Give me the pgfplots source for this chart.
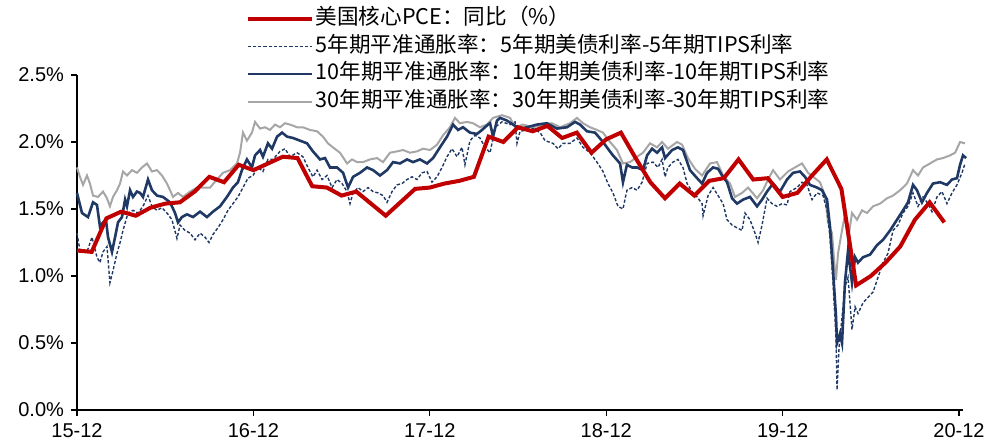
\documentclass[border=0pt]{standalone}
\usepackage{fontspec}
\usepackage{pgfplots}
\pgfplotsset{compat=1.18}
\usetikzlibrary{calc}
\setmainfont{Liberation Sans}
\newfontfamily\cjk{Noto Sans CJK SC}
\definecolor{pcered}{HTML}{C00000}
\definecolor{navy}{HTML}{1F3864}
\definecolor{lgray}{HTML}{A6A6A6}
\begin{document}
\begin{tikzpicture}
\begin{axis}[
  name=ax,
  scale only axis,
  width=443pt, height=167.5pt,
  xmin=0, xmax=60.27, ymin=0, ymax=2.5,
  axis x line=bottom, axis y line=left,
  axis line style={-, line width=0.6pt, black},
  clip=false,
  xtick={0,12,24,36,48,60},
  xticklabels={15-12,16-12,17-12,18-12,19-12,20-12},
  ytick={0,0.5,1,1.5,2,2.5},
  yticklabels={0.0\%,0.5\%,1.0\%,1.5\%,2.0\%,2.5\%},
  tick align=outside,
  major tick length=3pt,
  tick style={black, line width=0.6pt},
  ticklabel style={font=\fontsize{10}{12}\selectfont},
  reverse legend,
  legend style={
    at={(0.19,1.205)}, anchor=north west,
    draw=none, fill=none, inner sep=0pt,
    font=\cjk\fontsize{10.8}{12}\selectfont,
    nodes={inner sep=1pt, text height=8pt, text depth=2pt},
    row sep=1.8pt,
  },
  legend cell align=left,
  legend image code/.code={\draw[#1] (0pt,0pt) -- (32pt,0pt);},
]
% 30Y breakeven
\addplot[lgray, line width=1pt] table {
0.00 1.81
0.20 1.74
0.41 1.68
0.68 1.75
0.88 1.69
1.09 1.60
1.43 1.59
1.77 1.63
2.04 1.58
2.24 1.52
2.45 1.59
2.72 1.64
2.93 1.69
3.13 1.78
3.40 1.75
3.74 1.79
4.08 1.77
4.42 1.81
4.76 1.84
5.10 1.78
5.44 1.79
5.78 1.75
6.12 1.69
6.33 1.64
6.53 1.59
6.87 1.62
7.21 1.59
7.69 1.63
8.16 1.66
8.57 1.66
9.05 1.66
9.52 1.72
9.93 1.77
10.41 1.79
10.88 1.84
11.09 1.92
11.29 2.07
11.56 2.01
11.90 2.07
12.11 2.15
12.45 2.10
12.79 2.11
13.13 2.09
13.47 2.13
13.81 2.11
14.15 2.14
14.49 2.13
14.97 2.11
15.37 2.11
15.85 2.09
16.33 2.08
16.73 2.04
17.07 1.99
17.41 1.96
17.89 1.92
18.37 1.84
18.71 1.87
19.05 1.85
19.46 1.85
19.93 1.87
20.41 1.88
20.82 1.85
21.29 1.92
21.77 1.93
22.18 1.94
22.65 1.92
23.13 1.93
23.54 1.95
24.01 1.94
24.49 1.98
24.90 2.05
25.37 2.11
25.71 2.18
26.05 2.14
26.53 2.15
26.94 2.14
27.41 2.11
27.89 2.13
28.30 2.18
28.91 2.20
29.46 2.18
29.80 2.11
30.34 2.13
31.02 2.11
31.70 2.13
32.31 2.14
32.86 2.11
33.54 2.14
34.01 2.18
34.42 2.14
34.90 2.11
35.37 2.09
35.78 2.07
36.26 2.00
36.73 1.94
37.14 1.84
37.62 1.85
38.10 1.89
38.50 1.92
38.98 1.99
39.46 1.96
39.80 2.00
40.20 1.95
40.82 2.00
41.16 1.98
41.56 1.88
42.04 1.80
42.52 1.75
43.06 1.84
43.54 1.85
43.95 1.75
44.42 1.69
44.76 1.59
45.24 1.62
45.65 1.66
46.26 1.58
46.67 1.64
47.01 1.72
47.35 1.79
47.82 1.72
48.37 1.78
48.84 1.81
49.32 1.84
49.73 1.77
50.20 1.73
50.54 1.70
50.88 1.60
51.09 1.40
51.36 1.32
51.50 1.12
51.63 0.97
51.77 1.17
52.04 1.34
52.24 1.46
52.45 1.27
52.72 1.47
53.06 1.42
53.40 1.49
53.74 1.47
54.15 1.52
54.63 1.54
55.10 1.58
55.51 1.60
55.99 1.64
56.46 1.69
56.87 1.79
57.21 1.75
57.55 1.81
58.03 1.84
58.50 1.87
58.91 1.88
59.39 1.90
59.73 1.92
60.07 2.00
60.41 1.99
};
\addlegendentry{30年期平准通胀率：30年期美债利率-30年期TIPS利率}
% 10Y breakeven
\addplot[navy, line width=1.3pt] table {
0.00 1.62
0.34 1.47
0.75 1.44
1.09 1.55
1.36 1.53
1.56 1.37
1.77 1.40
1.97 1.42
2.11 1.29
2.38 1.18
2.59 1.29
2.79 1.40
3.06 1.44
3.27 1.57
3.40 1.52
3.61 1.64
3.81 1.59
4.08 1.63
4.29 1.62
4.49 1.59
4.83 1.72
5.10 1.64
5.44 1.60
5.85 1.59
6.33 1.55
6.67 1.47
6.87 1.40
7.14 1.44
7.48 1.46
7.89 1.44
8.37 1.48
8.84 1.44
9.25 1.48
9.73 1.52
10.20 1.59
10.61 1.66
10.95 1.70
11.22 1.79
11.56 1.87
11.90 1.81
12.11 1.90
12.45 1.94
12.65 1.89
12.99 1.99
13.27 1.95
13.61 2.04
13.95 2.07
14.29 2.04
14.69 2.03
15.17 2.01
15.65 1.99
16.05 1.93
16.53 1.87
16.87 1.88
17.21 1.81
17.69 1.81
18.10 1.77
18.44 1.66
18.78 1.74
19.25 1.77
19.73 1.81
20.14 1.79
20.61 1.75
21.09 1.79
21.50 1.85
21.97 1.84
22.45 1.87
22.86 1.85
23.33 1.87
23.81 1.84
24.22 1.88
24.69 1.96
25.17 2.04
25.58 2.13
25.92 2.09
26.26 2.11
26.73 2.07
27.21 2.06
27.55 2.09
27.96 2.13
28.10 2.14
28.30 2.04
28.57 2.16
28.78 2.18
29.25 2.16
29.66 2.13
30.14 2.10
30.61 2.11
31.29 2.13
31.97 2.14
32.65 2.10
33.33 2.11
33.88 2.15
34.22 2.13
34.69 2.08
35.24 2.07
35.71 2.01
36.05 1.96
36.46 1.90
36.94 1.84
37.14 1.70
37.41 1.83
37.76 1.81
38.10 1.81
38.50 1.79
38.78 1.90
39.12 1.95
39.46 1.92
39.80 1.96
40.00 1.88
40.48 1.94
40.88 1.96
41.22 1.94
41.70 1.79
42.18 1.73
42.52 1.69
42.86 1.77
43.27 1.81
43.61 1.80
43.88 1.75
44.22 1.70
44.56 1.58
44.90 1.54
45.31 1.57
45.78 1.59
46.26 1.52
46.60 1.57
46.94 1.63
47.35 1.69
47.82 1.63
48.30 1.72
48.71 1.77
49.18 1.78
49.52 1.74
49.86 1.68
50.34 1.66
50.68 1.64
51.02 1.57
51.22 1.37
51.43 1.04
51.63 0.70
51.70 0.50
51.90 0.57
52.04 0.50
52.24 0.95
52.45 1.19
52.72 0.95
52.93 1.14
53.13 1.10
53.47 1.14
53.95 1.16
54.42 1.23
54.83 1.27
55.31 1.34
55.78 1.42
56.19 1.49
56.53 1.55
56.87 1.68
57.14 1.64
57.48 1.55
57.82 1.62
58.23 1.69
58.71 1.70
59.18 1.68
59.52 1.72
59.86 1.73
60.07 1.83
60.27 1.90
60.48 1.88
};
\addlegendentry{10年期平准通胀率：10年期美债利率-10年期TIPS利率}
% 5Y breakeven
\addplot[navy, line width=0.7pt, dash pattern=on 1.6pt off 1pt] table {
0.00 1.32
0.20 1.19
0.68 1.18
1.02 1.29
1.36 1.14
1.56 1.10
1.77 1.18
2.04 1.22
2.24 0.95
2.45 1.04
2.72 1.17
2.93 1.25
3.13 1.34
3.47 1.47
3.81 1.49
4.15 1.47
4.49 1.52
4.83 1.60
5.10 1.52
5.44 1.49
5.78 1.51
6.12 1.47
6.46 1.42
6.80 1.28
7.01 1.38
7.35 1.34
7.69 1.32
8.03 1.27
8.37 1.32
8.71 1.29
8.98 1.25
9.25 1.31
9.59 1.36
9.93 1.42
10.27 1.49
10.61 1.54
10.95 1.59
11.29 1.66
11.63 1.73
11.97 1.75
12.31 1.81
12.65 1.78
12.99 1.87
13.33 1.87
13.81 1.93
14.15 1.95
14.49 1.89
14.97 1.92
15.37 1.89
15.71 1.81
16.05 1.74
16.33 1.79
16.67 1.72
17.01 1.75
17.35 1.66
17.69 1.72
18.03 1.69
18.37 1.63
18.57 1.54
18.78 1.62
19.12 1.66
19.46 1.63
19.80 1.66
20.14 1.63
20.48 1.62
20.82 1.60
21.09 1.55
21.43 1.63
21.77 1.68
22.11 1.69
22.45 1.72
22.79 1.74
23.13 1.72
23.47 1.77
23.81 1.78
24.15 1.70
24.49 1.74
24.83 1.81
25.17 1.89
25.51 1.95
25.85 1.89
26.19 1.96
26.39 1.83
26.73 2.01
27.07 2.05
27.41 2.03
27.76 1.96
28.10 1.92
28.44 2.11
28.91 2.15
29.46 2.13
29.80 2.15
29.93 1.99
30.14 2.08
30.61 2.09
31.02 2.10
31.50 2.07
31.84 2.01
32.38 1.99
32.72 1.95
33.06 1.99
33.54 1.99
34.01 2.03
34.42 1.96
34.90 1.92
35.37 1.85
35.78 1.78
36.12 1.69
36.46 1.62
36.80 1.52
37.14 1.50
37.41 1.64
37.76 1.66
38.10 1.64
38.44 1.70
38.78 1.84
39.18 1.85
39.52 1.81
39.80 1.87
40.00 1.74
40.20 1.81
40.54 1.85
40.88 1.87
41.22 1.81
41.50 1.69
41.84 1.63
42.18 1.59
42.52 1.54
42.59 1.45
42.93 1.60
43.27 1.66
43.61 1.60
43.95 1.54
44.22 1.42
44.56 1.38
44.90 1.36
45.24 1.34
45.44 1.47
45.78 1.42
46.12 1.32
46.33 1.25
46.60 1.38
46.94 1.58
47.28 1.54
47.62 1.52
47.96 1.54
48.30 1.53
48.50 1.63
48.98 1.66
49.32 1.70
49.66 1.68
50.00 1.57
50.34 1.62
50.75 1.60
51.02 1.49
51.22 1.29
51.43 0.95
51.63 0.54
51.70 0.15
51.84 0.47
52.04 0.69
52.24 0.92
52.45 0.99
52.72 0.60
52.93 0.77
53.13 0.72
53.47 0.80
53.81 0.84
54.15 0.88
54.49 0.99
54.83 1.10
55.17 1.17
55.51 1.34
55.85 1.38
56.19 1.47
56.53 1.52
56.87 1.62
57.21 1.52
57.55 1.59
57.89 1.54
58.16 1.48
58.50 1.59
58.84 1.63
59.18 1.54
59.52 1.62
59.86 1.68
60.20 1.77
60.41 1.84
};
\addlegendentry{5年期平准通胀率：5年期美债利率-5年期TIPS利率}
% Core PCE yoy
\addplot[pcered, line width=2pt] table {
0 1.19
1 1.18
2 1.43
3 1.48
4 1.45
5 1.51
6 1.54
7 1.55
8 1.63
9 1.74
10 1.70
11 1.83
12 1.79
13 1.84
14 1.89
15 1.88
16 1.67
17 1.66
18 1.60
19 1.63
20 1.54
21 1.45
22 1.55
23 1.65
24 1.66
25 1.69
26 1.71
27 1.74
28 2.04
29 2.00
30 2.11
31 2.08
32 2.12
33 2.03
34 2.07
35 1.92
36 2.02
37 2.07
38 1.88
39 1.70
40 1.58
41 1.69
42 1.60
43 1.71
44 1.73
45 1.87
46 1.72
47 1.73
48 1.59
49 1.62
50 1.75
51 1.87
52 1.65
53 0.93
54 1.00
55 1.10
56 1.22
57 1.42
58 1.55
59 1.40
};
\addlegendentry{美国核心PCE：同比（\%）}
\end{axis}
\pgfresetboundingbox
\useasboundingbox ($(ax.south west)+(-38.5pt,-17.5pt)$) rectangle ($(ax.north east)+(21pt,37.5pt)$);
\end{tikzpicture}
\end{document}
